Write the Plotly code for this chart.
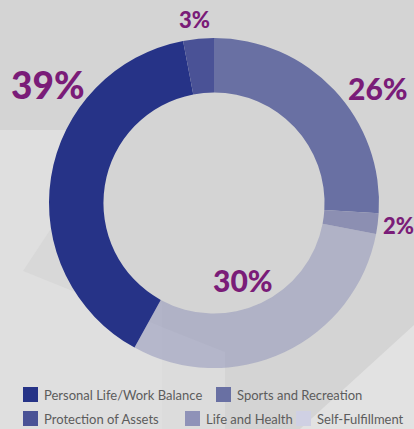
import plotly.graph_objects as go

# Share of responses by theme, clockwise from 12 o'clock
categories = ["Sports and Recreation", "Life and Health", "Self-Fulfillment",
              "Personal Life/Work Balance", "Protection of Assets"]
values = [26, 2, 30, 39, 3]
slice_colors = ["#6970a3", "#8c8fb2", "rgba(140,144,184,0.5)", "#263387", "#4a5296"]

# Legend entries (order and swatch colours as printed under the ring)
legend_labels = ["Personal Life/Work Balance", "Sports and Recreation",
                 "Protection of Assets", "Life and Health", "Self-Fulfillment"]
legend_colors = ["#263387", "#6970a3", "#4a5296", "#8f92b8", "#cfd0e3"]

W, H = 414, 429
cx, cy, r = 214, 203, 165  # ring centre and outer radius in pixels
hole = 0.67


def px(x):
    return x / W


def py(y):
    return 1 - y / H


fig = go.Figure(go.Pie(
    labels=categories,
    values=values,
    sort=False,
    direction="clockwise",
    rotation=0,
    hole=hole,
    marker=dict(colors=slice_colors, line=dict(width=0)),
    textinfo="none",
    hoverinfo="label+percent",
    showlegend=False,
    domain=dict(x=[px(cx - r), px(cx + r)], y=[py(cy + r), py(cy - r)]),
))

# Soft geometric backdrop
def poly(points, color):
    path = "M " + " L ".join(f"{px(x)},{py(y)}" for x, y in points) + " Z"
    return dict(type="path", path=path, xref="paper", yref="paper",
                fillcolor=color, line=dict(width=0), layer="below")


ri = r * hole
shapes = [
    poly([(0, 130), (162, 130), (162, 429), (0, 429)], "#dfdfdf"),
    poly([(23, 271), (62, 212), (162, 300), (162, 327)], "#d8d8d8"),
    poly([(162, 327), (225, 352), (225, 429), (162, 429)], "#dcdcdc"),
    poly([(300, 429), (414, 325), (414, 429)], "#e2e2e2"),
    # plain centre of the ring
    dict(type="circle", xref="paper", yref="paper",
         x0=px(cx - ri - 2), x1=px(cx + ri + 2), y0=py(cy + ri + 2), y1=py(cy - ri - 2),
         fillcolor="#d4d4d4", line=dict(width=0), layer="below"),
]

# Legend swatches and labels
legend_pos = [(23, 387), (216, 387), (23, 411), (185, 411), (296, 411)]
annotations = []
for (lx, ly), lab, col in zip(legend_pos, legend_labels, legend_colors):
    shapes.append(dict(type="rect", xref="paper", yref="paper",
                       x0=px(lx), x1=px(lx + 15), y0=py(ly + 15), y1=py(ly),
                       fillcolor=col, line=dict(width=0)))
    annotations.append(dict(x=px(lx + 19), y=py(ly + 8), xref="paper", yref="paper",
                            text=lab, showarrow=False, xanchor="left", yanchor="middle",
                            font=dict(family="Lato", size=13, color="#5c5c5c")))

# Percentage labels around the ring
label_pos = {
    "Sports and Recreation": (378, 88, 30),
    "Life and Health": (398, 225, 22),
    "Self-Fulfillment": (243, 280, 30),
    "Personal Life/Work Balance": (48, 84, 37),
    "Protection of Assets": (194, 20, 22),
}
for cat, v in zip(categories, values):
    x, y, size = label_pos[cat]
    annotations.append(dict(x=px(x), y=py(y), xref="paper", yref="paper",
                            text=f"{v}%", showarrow=False,
                            xanchor="center", yanchor="middle",
                            font=dict(family="Lato", size=size, color="#7a1c78",
                                      weight=900)))

fig.update_layout(
    width=W, height=H,
    margin=dict(l=0, r=0, t=0, b=0),
    paper_bgcolor="#d4d4d4",
    plot_bgcolor="#d4d4d4",
    shapes=shapes,
    annotations=annotations,
)

fig.write_html("out.html")
